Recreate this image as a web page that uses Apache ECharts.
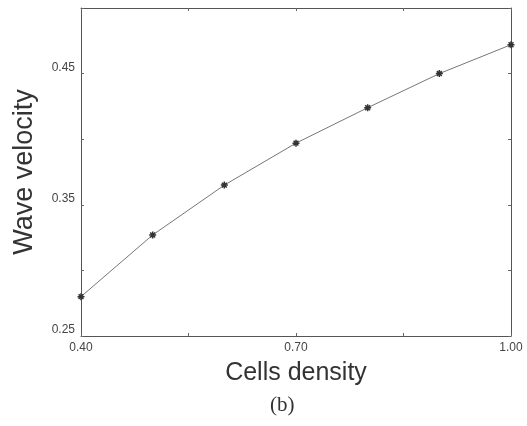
<!DOCTYPE html>
<html>
<head>
<meta charset="utf-8">
<script src="https://cdn.jsdelivr.net/npm/echarts@6/dist/echarts.min.js"></script>
<style>
  html, body { margin: 0; padding: 0; background: #fff; }
  #chart { width: 527px; height: 426px; }
</style>
</head>
<body>
<div id="chart"></div>
<script>
  // data
  var density = [0.40, 0.50, 0.60, 0.70, 0.80, 0.90, 1.00];
  var velocity = [0.280, 0.327, 0.365, 0.397, 0.424, 0.450, 0.472];
  var xLabels = ['0.40', '0.70', '1.00'];
  var yLabels = ['0.25', '0.35', '0.45'];

  var chartDom = document.getElementById('chart');
  var myChart = echarts.init(chartDom, null, {renderer: 'canvas'});

  var star = 'path://M5,0 L5,10 M0,5 L10,5 M1.5,1.5 L8.5,8.5 M8.5,1.5 L1.5,8.5';

  var axisBase = {
    axisLine: {lineStyle: {color: '#555', width: 1}},
    axisTick: {inside: true, length: 3, lineStyle: {color: '#666'}},
    splitLine: {show: false}
  };

  var option = {
    animation: false,
    backgroundColor: '#fff',
    grid: {left: 81, right: 16, top: 8, bottom: 90},
    xAxis: [
      Object.assign({}, axisBase, {
        type: 'value', min: 0.40, max: 1.00, interval: 0.15,
        axisLabel: {
          color: '#444', fontSize: 12, fontFamily: 'Liberation Sans', margin: 6,
          formatter: function (v) {
            var s = v.toFixed(2);
            return xLabels.indexOf(s) >= 0 ? s : '';
          }
        },
        name: 'Cells density', nameLocation: 'middle', nameGap: 25,
        nameTextStyle: {fontSize: 25, color: '#333', fontFamily: 'Liberation Sans'}
      }),
      Object.assign({}, axisBase, {
        type: 'value', position: 'top', min: 0.40, max: 1.00, interval: 0.15,
        axisLabel: {show: false}
      })
    ],
    yAxis: [
      Object.assign({}, axisBase, {
        type: 'value', min: 0.25, max: 0.50, interval: 0.05,
        axisLabel: {
          color: '#444', fontSize: 12, fontFamily: 'Liberation Sans', margin: 6,
          verticalAlign: 'bottom',
          formatter: function (v) {
            var s = v.toFixed(2);
            return yLabels.indexOf(s) >= 0 ? s : '';
          }
        },
        name: 'Wave velocity', nameLocation: 'middle', nameGap: 43,
        nameTextStyle: {fontSize: 27, color: '#333', fontFamily: 'Liberation Sans'}
      }),
      Object.assign({}, axisBase, {
        type: 'value', position: 'right', min: 0.25, max: 0.50, interval: 0.05,
        axisLabel: {show: false}
      })
    ],
    graphic: [{
      type: 'text', left: 270, top: 395,
      style: {text: '(b)', fontSize: 21, fill: '#333', fontFamily: 'Liberation Serif'}
    }],
    series: [{
      type: 'line',
      data: density.map(function (d, i) { return [d, velocity[i]]; }),
      symbol: star,
      symbolSize: 7,
      lineStyle: {color: '#777', width: 1},
      itemStyle: {color: '#333', borderColor: '#333', borderWidth: 1.5}
    }]
  };

  option && myChart.setOption(option);
</script>
</body>
</html>
